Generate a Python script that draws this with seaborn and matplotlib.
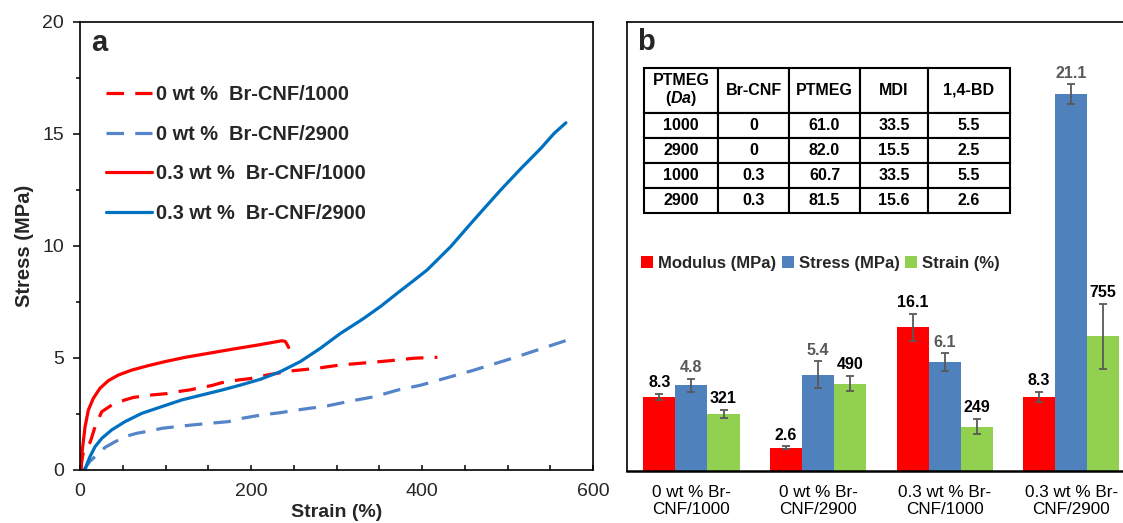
import numpy as np
import pandas as pd
import matplotlib
matplotlib.use("Agg")
import matplotlib.pyplot as plt
import seaborn as sns
from matplotlib.ticker import MultipleLocator

sns.set_theme(style="white")
plt.rcParams["font.family"] = ["Liberation Sans", "DejaVu Sans"]
plt.rcParams["mathtext.fontset"] = "custom"
plt.rcParams["mathtext.it"] = "Liberation Sans:italic:bold"
plt.rcParams["mathtext.rm"] = "Liberation Sans:bold"

# ---------------- panel a data (stress-strain curves) ----------------
strain_0_1000 = [0.5, 2.5, 4.5, 7, 9, 12, 17.6, 25.4, 37.1, 52.7, 62.5, 84, 101.5, 111, 129,
                 138.6, 154, 166, 185.5, 199, 218.7, 246, 277, 304.7, 336, 363, 390.5, 414, 418]
stress_0_1000 = [0, 0.5, 0.9, 1.0, 1.05, 1.25, 1.93, 2.6, 2.9, 3.13, 3.24, 3.35, 3.41, 3.48, 3.58,
                 3.66, 3.77, 3.9, 4.02, 4.08, 4.24, 4.42, 4.54, 4.69, 4.79, 4.88, 4.99, 5.03, 5.03]

strain_0_2900 = [4, 8, 12, 17.6, 29.3, 41, 52.7, 66.4, 84, 95.7, 111.3, 131, 150.4, 173.8, 190,
                 211, 234.3, 261.8, 289, 316.7, 344, 371.6, 398.9, 412.6, 460, 505.8, 570]
stress_0_2900 = [0, 0.2, 0.4, 0.6, 1.01, 1.26, 1.49, 1.64, 1.76, 1.86, 1.93, 2.01, 2.08, 2.16, 2.31,
                 2.45, 2.56, 2.72, 2.86, 3.08, 3.27, 3.57, 3.79, 3.94, 4.45, 4.99, 5.8]

strain_03_1000 = [1.2, 2.7, 5.9, 9.8, 15.6, 23.4, 33.2, 44.9, 60.5, 80, 99.6, 123, 150.4, 177.7,
                  205, 220, 236, 240, 242, 244]
stress_03_1000 = [0, 0.89, 1.93, 2.68, 3.2, 3.65, 3.99, 4.24, 4.46, 4.66, 4.84, 5.03, 5.21, 5.39,
                  5.56, 5.66, 5.77, 5.74, 5.62, 5.47]

strain_03_2900 = [5.9, 8, 11.7, 17.6, 25.4, 37.1, 52.7, 72.3, 95.7, 119.2, 142.6, 166, 187.5, 211,
                  234.3, 257.7, 281, 304.7, 330, 351.5, 371, 390, 406, 433.5, 457, 468.6, 492,
                  515.5, 539, 554.6, 568.3]
stress_03_2900 = [0, 0.25, 0.6, 1.04, 1.41, 1.79, 2.16, 2.53, 2.83, 3.13, 3.35, 3.57, 3.79, 4.05,
                  4.39, 4.84, 5.43, 6.1, 6.72, 7.3, 7.89, 8.45, 8.93, 9.97, 11.0, 11.5, 12.5,
                  13.45, 14.36, 15.03, 15.5]

curve_labels = ["0 wt %  Br-CNF/1000", "0 wt %  Br-CNF/2900",
                "0.3 wt %  Br-CNF/1000", "0.3 wt %  Br-CNF/2900"]

# ---------------- panel b data ----------------
groups = ["0 wt % Br-\nCNF/1000", "0 wt % Br-\nCNF/2900", "0.3 wt % Br-\nCNF/1000", "0.3 wt % Br-\nCNF/2900"]
metrics = ["Modulus (MPa)", "Stress (MPa)", "Strain (%)"]
modulus = [8.3, 2.6, 16.1, 8.3]
modulus_err = [0.34, 0.15, 1.49, 0.6]
stress = [4.8, 5.4, 6.1, 21.1]
stress_err = [0.38, 0.75, 0.49, 0.55]
strain = [321, 490, 249, 755]
strain_err = [23, 43, 44, 182]
# display scale of each metric on the shared (hidden) bar axis
metric_scale = [1.0, 2.0, 0.02]

table_header = ["PTMEG\n($\\mathit{Da}$)", "Br-CNF", "PTMEG", "MDI", "1,4-BD"]
table_rows = [["1000", "0", "61.0", "33.5", "5.5"],
              ["2900", "0", "82.0", "15.5", "2.5"],
              ["1000", "0.3", "60.7", "33.5", "5.5"],
              ["2900", "0.3", "81.5", "15.6", "2.6"]]

W, H = 1123, 523
fig = plt.figure(figsize=(W / 100, H / 100), dpi=100, facecolor="white")

# ================= panel a =================
axa = fig.add_axes([80 / W, 53 / H, 513 / W, 448 / H])
RED, BLUE, LBLUE = "#FF0000", "#0070C0", "#5585C8"
lw = 2.3
dash = (0, (5.5, 3.5))
sns.lineplot(x=strain_0_1000, y=stress_0_1000, ax=axa, color=RED, lw=lw, linestyle=dash,
             sort=False, estimator=None, label=curve_labels[0])
sns.lineplot(x=strain_0_2900, y=stress_0_2900, ax=axa, color=LBLUE, lw=lw, linestyle=dash,
             sort=False, estimator=None, label=curve_labels[1])
sns.lineplot(x=strain_03_1000, y=stress_03_1000, ax=axa, color=RED, lw=lw,
             sort=False, estimator=None, label=curve_labels[2])
sns.lineplot(x=strain_03_2900, y=stress_03_2900, ax=axa, color=BLUE, lw=lw,
             sort=False, estimator=None, label=curve_labels[3])

axa.set_xlim(0, 600)
axa.set_ylim(0, 20)
axa.xaxis.set_major_locator(MultipleLocator(200))
axa.xaxis.set_minor_locator(MultipleLocator(50))
axa.yaxis.set_major_locator(MultipleLocator(5))
axa.yaxis.set_minor_locator(MultipleLocator(2.5))
axa.tick_params(axis="x", which="both", direction="in", length=3.8, width=1.1, color="black",
                labelsize=14, pad=9, bottom=True)
axa.tick_params(axis="y", which="major", direction="out", length=5, width=1.1, color="black",
                labelsize=14, pad=6.5, left=True)
axa.tick_params(axis="y", which="minor", direction="out", length=3, width=1.1, color="black", left=True)
for s in axa.spines.values():
    s.set_color("black")
    s.set_linewidth(1.2)
axa.set_xlabel("Strain (%)", fontsize=14, fontweight="bold", va="bottom")
axa.xaxis.set_label_coords(0.5, (2 - 53) / 448)
axa.set_ylabel("Stress (MPa)", fontsize=14.5, fontweight="bold", labelpad=6)
axa.text(0.022, 0.936, "a", transform=axa.transAxes, fontsize=21, fontweight="bold",
         va="baseline", ha="left")
leg = axa.legend(loc="upper left", bbox_to_anchor=(0.05, 0.86), frameon=False,
                 prop={"weight": "bold", "size": 14.4}, handlelength=2.3, handletextpad=0.2,
                 labelspacing=1.04, borderpad=0, borderaxespad=0)

# ================= panel b =================
axb = fig.add_axes([627 / W, 52 / H, 507.5 / W, 449 / H])
rows = []
for g, m, s, t in zip(groups, modulus, stress, strain):
    rows.append({"group": g, "metric": metrics[0], "value": m * metric_scale[0]})
    rows.append({"group": g, "metric": metrics[1], "value": s * metric_scale[1]})
    rows.append({"group": g, "metric": metrics[2], "value": t * metric_scale[2]})
df = pd.DataFrame(rows)
palette = {metrics[0]: "#FF0000", metrics[1]: "#4F81BD", metrics[2]: "#92D050"}
sns.barplot(data=df, x="group", y="value", hue="metric", hue_order=metrics, order=groups,
            palette=palette, width=0.76, errorbar=None, saturation=1, ax=axb, linewidth=0)

vals = [modulus, stress, strain]
errs = [modulus_err, stress_err, strain_err]
label_colors = ["black", "#595959", "black"]
bar_containers = list(axb.containers)
for k, cont in enumerate(bar_containers):
    xs = [p.get_x() + p.get_width() / 2 for p in cont.patches]
    hs = [p.get_height() for p in cont.patches]
    e = [v * metric_scale[k] for v in errs[k]]
    axb.errorbar(xs, hs, yerr=e, fmt="none", ecolor="#595959", elinewidth=1.3,
                 capsize=3.2, capthick=1.3, zorder=5)
    for x, h, ee, v in zip(xs, hs, e, vals[k]):
        txt = f"{v:g}" if k == 2 else f"{v:.1f}"
        axb.annotate(txt, (x, h + ee), xytext=(0, 8), textcoords="offset points",
                     ha="center", va="center", fontsize=11.5, fontweight="bold",
                     color=label_colors[k], zorder=6)

axb.set_ylim(0, 50.3)
axb.set_xlim(-0.509, 3.5)
axb.set_yticks([])
axb.set_xlabel("")
axb.set_ylabel("")
axb.tick_params(axis="x", length=0, labelsize=12.3, pad=10, colors="black")
for lab in axb.get_xticklabels():
    lab.set_linespacing(1.15)
for name, s in axb.spines.items():
    s.set_color("black")
    s.set_linewidth(1.2)
axb.spines["bottom"].set_linewidth(1.8)
axb.text(0.02, 0.9376, "b", transform=axb.transAxes, fontsize=21, fontweight="bold",
         va="baseline", ha="left")

sns.move_legend(axb, loc="center left", bbox_to_anchor=(0.028, 0.4626), ncol=3, frameon=False,
                title=None, prop={"weight": "bold", "size": 12}, handlelength=0.7,
                handleheight=0.7, handletextpad=0.3, columnspacing=0.35,
                borderpad=0, borderaxespad=0)

colw = np.array([74, 71, 71, 68, 82], dtype=float)
colw = colw / colw.sum()
tab = axb.table(cellText=table_rows, colLabels=table_header, colWidths=list(colw),
                cellLoc="center", bbox=[0.0335, 0.574, 0.7212, 0.324])
tab.auto_set_font_size(False)
tab.set_fontsize(11.5)
for (r, c), cell in tab.get_celld().items():
    cell.set_linewidth(1.5)
    cell.set_edgecolor("black")
    cell.set_facecolor("white")
    cell.get_text().set_fontweight("bold")
    cell.get_text().set_color("black")
for c in range(5):
    tab[(0, c)].set_height(tab[(1, c)].get_height() * 1.8)
tab[(0, 0)].get_text().set_linespacing(1.1)

fig.savefig("out.png", dpi=100, facecolor="white")
